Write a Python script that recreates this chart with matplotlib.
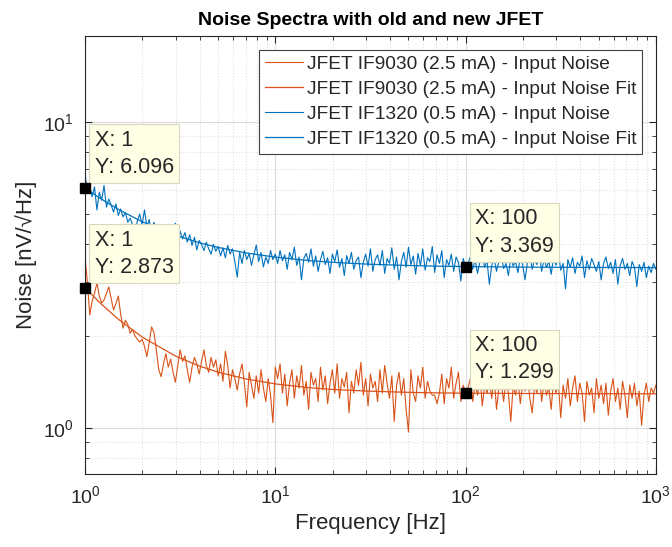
import numpy as np
import matplotlib.pyplot as plt
from matplotlib.ticker import LogLocator, NullFormatter

plt.rcParams['font.family'] = ['Liberation Sans', 'DejaVu Sans']
plt.rcParams['mathtext.fontset'] = 'custom'
plt.rcParams['mathtext.rm'] = 'Liberation Sans'

# measured noise spectra (log spaced from 1 Hz to 1 kHz)
noise_if9030 = [
    3.62, 3.00, 2.34, 2.60, 2.75, 2.98, 2.70, 2.56, 2.62, 2.75,
    2.89, 2.65, 2.43, 2.55, 2.70, 2.35, 2.12, 2.25, 2.18, 2.04,
    2.10, 2.00, 1.95, 1.91, 1.95, 1.85, 1.71, 1.90, 2.14, 2.05,
    1.80, 1.55, 1.47, 1.62, 1.75, 1.58, 1.68, 1.52, 1.41, 1.60,
    1.80, 1.65, 1.72, 1.55, 1.41, 1.58, 1.70, 1.62, 1.50, 1.65,
    1.80, 1.60, 1.52, 1.70, 1.58, 1.67, 1.48, 1.62, 1.42, 1.78,
    1.60, 1.35, 1.55, 1.45, 1.33, 1.50, 1.62, 1.40, 1.17, 1.52,
    1.38, 1.25, 1.48, 1.30, 1.55, 1.35, 1.22, 1.45, 1.28, 1.04,
    1.58,
    1.45, 1.62, 1.30, 1.50, 1.18, 1.40, 1.55, 1.25, 1.48, 1.35,
    1.60, 1.28, 1.42, 1.15, 1.52, 1.38, 1.45, 1.22, 1.58, 1.33,
    1.48, 1.20, 1.40, 1.55, 1.30, 1.62, 1.25, 1.45, 1.36, 1.52,
    1.12, 1.42, 1.30, 1.55, 1.38, 1.64, 1.28, 1.45, 1.18, 1.50,
    1.35, 1.42, 1.22, 1.55, 1.30, 1.60, 1.40, 1.25, 1.48, 1.05,
    1.38, 1.52, 1.28, 1.45, 1.15, 0.97, 1.55, 1.30, 1.22, 1.48,
    1.35, 1.58, 1.25, 1.42, 1.32, 1.28, 1.28, 1.20, 1.30, 1.50,
    1.20, 1.45, 1.35, 1.58, 1.25, 1.40, 1.52, 1.22, 1.38, 1.30,
    1.35, 1.45, 1.22, 1.40, 1.28, 1.50, 1.18, 1.38, 1.30, 1.42,
    1.25, 1.48, 1.15, 1.35, 1.40, 1.22, 1.45, 1.30, 1.05, 1.38,
    1.28, 1.45, 1.20, 1.40, 1.32, 1.48, 1.25, 1.12, 1.38, 1.30,
    1.50, 1.22, 1.42, 1.28, 1.35, 1.15, 1.45, 1.30, 1.40, 1.08,
    1.38, 1.25, 1.45, 1.18, 1.35, 1.48, 1.22, 1.40, 1.30, 1.05,
    1.42, 1.28, 1.35, 1.12, 1.45, 1.25, 1.38, 1.20, 1.40, 1.10,
    1.32, 1.45, 1.22, 1.35, 1.15, 1.42, 1.28, 1.08, 1.38, 1.25,
    1.40, 1.18, 1.32, 1.02, 1.28, 1.40, 1.22, 1.35, 1.30, 1.38,
]
noise_if1320 = [
    6.80, 5.86, 6.10, 5.70, 6.14, 5.16, 5.90, 5.55, 6.20, 5.27,
    5.60, 5.35, 5.08, 5.40, 4.95, 5.20, 4.90, 5.05, 4.70, 4.85,
    4.60, 4.37, 4.75, 5.00, 4.62, 5.16, 4.55, 4.80, 4.34, 4.70,
    4.45, 4.62, 4.25, 4.55, 4.38, 4.60, 4.30, 4.50, 4.67, 4.02,
    4.40, 4.15, 4.35, 4.05, 4.28, 3.95, 4.20, 3.82, 4.10, 3.98,
    3.80, 4.05, 3.85, 3.70, 3.98, 3.78, 3.92, 3.65, 3.88, 3.60,
    3.95, 3.70, 3.85, 3.50, 3.11, 3.75, 3.45, 3.80, 3.55, 3.72,
    3.40, 3.68, 3.96, 3.50, 3.75, 3.36, 3.62, 3.45, 3.80, 3.55,
    3.70,
    3.45, 3.80, 3.52, 3.68, 3.30, 3.75, 3.55, 3.90, 3.40, 3.62,
    3.05, 3.58, 3.72, 3.48, 3.85, 3.38, 3.65, 3.25, 3.55, 3.78,
    3.42, 3.60, 3.20, 3.70, 3.50, 3.82, 3.35, 3.58, 3.15, 3.66,
    3.45, 3.75, 3.30, 3.52, 3.62, 3.10, 3.48, 3.70, 3.38, 3.85,
    3.25, 3.55, 3.68, 3.40, 3.80, 3.20, 3.58, 3.45, 3.88, 3.30,
    3.62, 3.05, 3.50, 3.75, 3.35, 3.90, 3.42, 3.65, 3.18, 3.72,
    3.40, 3.85, 3.28, 3.60, 3.50, 3.92, 3.22, 3.68, 3.45, 3.80,
    3.10, 3.55, 3.40, 3.70, 3.25, 3.62, 3.48, 3.02, 3.58, 3.38,
    3.45, 3.62, 3.30, 3.55, 3.20, 3.48, 3.68, 3.35, 3.52, 2.95,
    3.40, 3.58, 3.25, 3.50, 3.65, 3.32, 3.45, 3.15, 3.60, 3.38,
    3.50, 3.22, 3.62, 3.40, 3.05, 3.48, 3.70, 3.30, 3.55, 3.42,
    3.72, 3.25, 3.58, 3.35, 3.50, 3.18, 3.62, 3.40, 3.75, 3.28,
    3.45, 2.85, 3.55, 3.35, 3.60, 3.20, 3.48, 3.38, 3.65, 3.10,
    3.52, 3.30, 3.58, 3.42, 3.25, 3.50, 3.05, 3.45, 3.62, 3.32,
    3.48, 3.20, 3.55, 2.95, 3.40, 3.58, 3.30, 3.45, 3.15, 3.50,
    3.35, 2.90, 3.42, 3.25, 3.48, 3.10, 3.38, 3.22, 3.45, 3.30,
]

# fit curves
fit_freq = [1, 1.2, 1.5, 2, 3, 4, 5, 7, 10, 15, 20, 30, 50, 70, 100, 200, 500, 1000]
fit_if9030 = [2.873, 2.562, 2.264, 1.981, 1.716, 1.592, 1.522, 1.446, 1.393, 1.354,
              1.336, 1.320, 1.307, 1.302, 1.299, 1.296, 1.294, 1.293]
fit_if1320 = [6.096, 5.637, 5.178, 4.719, 4.259, 4.030, 3.892, 3.735, 3.617, 3.525,
              3.479, 3.433, 3.396, 3.380, 3.369, 3.355, 3.347, 3.344]

# data tips
tip_x = [1, 1, 100, 100]
tip_y = [6.096, 2.873, 3.369, 1.299]

labels = ['JFET IF9030 (2.5 mA) - Input Noise',
          'JFET IF9030 (2.5 mA) - Input Noise Fit',
          'JFET IF1320 (0.5 mA) - Input Noise',
          'JFET IF1320 (0.5 mA) - Input Noise Fit']

orange = '#D95319'
blue = '#0072BD'
dark = '#262626'

f_a = np.logspace(0, 3, len(noise_if9030))
f_b = np.logspace(0, 3, len(noise_if1320))

fig = plt.figure(figsize=(6.72, 5.47), dpi=100)
ax = fig.add_axes([0.1265, 0.1335, 0.8495, 0.8005])

ax.plot(f_a, noise_if9030, color=orange, lw=0.8, label=labels[0])
ax.plot(fit_freq, fit_if9030, color=orange, lw=0.9, label=labels[1])
ax.plot(f_b, noise_if1320, color=blue, lw=0.8, label=labels[2])
ax.plot(fit_freq, fit_if1320, color=blue, lw=0.9, label=labels[3])

ax.set_xscale('log')
ax.set_yscale('log')
ax.set_xlim(1, 1000)
ax.set_ylim(0.707, 19.1)

ax.xaxis.set_major_locator(LogLocator(base=10, numticks=10))
ax.yaxis.set_major_locator(LogLocator(base=10, numticks=10))
ax.xaxis.set_minor_locator(LogLocator(base=10, subs=np.arange(2, 10), numticks=20))
ax.yaxis.set_minor_locator(LogLocator(base=10, subs=np.arange(2, 10), numticks=20))
ax.xaxis.set_minor_formatter(NullFormatter())
ax.yaxis.set_minor_formatter(NullFormatter())

ax.grid(True, which='major', color='#DCDCDC', lw=0.8, ls='-')
ax.grid(True, which='minor', color='#E0E0E0', lw=0.8, ls=':')
ax.set_axisbelow(True)

ax.tick_params(which='both', direction='in', top=True, right=True, colors=dark,
               labelsize=14, labelcolor=dark)
ax.tick_params(which='major', length=5, pad=8)
ax.tick_params(which='minor', length=3)
for s in ax.spines.values():
    s.set_color(dark)
    s.set_linewidth(0.8)

ax.set_title('Noise Spectra with old and new JFET', fontsize=14, fontweight='bold',
             color='black', pad=8)
ax.set_xlabel('Frequency [Hz]', fontsize=16, color=dark, labelpad=4)
ax.set_ylabel('Noise [nV/\u221aHz]', fontsize=16, color=dark, labelpad=4)

leg = ax.legend(loc='upper right', fontsize=13.8, handlelength=2.0, handletextpad=0.2,
                labelspacing=0.4, borderpad=0.3, borderaxespad=0.7, fancybox=False,
                framealpha=1, edgecolor='#404040')
leg.get_frame().set_linewidth(0.8)
for t in leg.get_texts():
    t.set_color(dark)

ax.plot(tip_x, tip_y, 's', color='black', ms=6.5, clip_on=False, zorder=7)
for x, y in zip(tip_x, tip_y):
    txt = 'X: %g\nY: %.3f' % (x, y)
    ax.annotate(txt, xy=(x, y), xytext=(7, 7), textcoords='offset points',
                ha='left', va='bottom', fontsize=15.5, color=dark, linespacing=1.4,
                bbox=dict(boxstyle='square,pad=0.25', fc='#FFFFE6', ec='#D8D8C0', lw=0.8),
                zorder=6)

fig.savefig('out.png', dpi=100)
